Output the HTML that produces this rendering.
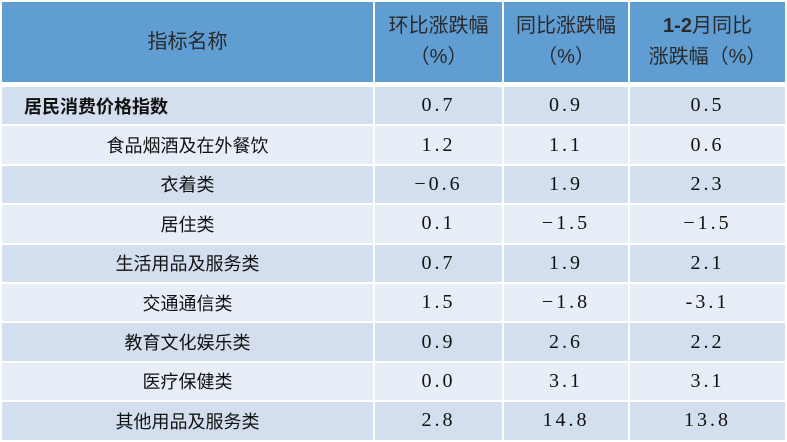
<!DOCTYPE html>
<html><head><meta charset="utf-8"><style>
body{margin:0;width:787px;height:442px;background:#fff;overflow:hidden;font-family:"Liberation Sans","Noto Sans CJK SC",sans-serif;}
table{position:absolute;left:0;top:0;border-collapse:collapse;width:785px;table-layout:fixed;}
td{border:2px solid #fff;text-align:center;color:#111;font-size:18px;padding:0;}
tr.h td{background:#5f9dd3;height:80px;color:#2a2a2a;line-height:31px;font-size:20px;}
tr.o td{background:#d3dfee;height:37.4px;}
tr.e td{background:#e8eef7;height:37.4px;}
td.n{font-family:"Liberation Serif","Noto Serif CJK SC",serif;font-size:20px;letter-spacing:3px;}
td.b{font-weight:bold;}
tr.first td{border-top:5px solid #fff;}
</style></head><body>
<table>
<colgroup><col style="width:373px"><col style="width:129px"><col style="width:126px"><col style="width:157px"></colgroup>
<tr class="h"><td>指标名称</td><td>环比涨跌幅<br>（%）</td><td>同比涨跌幅<br>（%）</td><td><b>1-2</b>月同比<br>涨跌幅（%）</td></tr>
<tr class="o first"><td class="b" style="text-align:left;padding-left:22px">居民消费价格指数</td><td class="n">0.7</td><td class="n">0.9</td><td class="n">0.5</td></tr>
<tr class="e"><td>食品烟酒及在外餐饮</td><td class="n">1.2</td><td class="n">1.1</td><td class="n">0.6</td></tr>
<tr class="o"><td>衣着类</td><td class="n">−0.6</td><td class="n">1.9</td><td class="n">2.3</td></tr>
<tr class="e"><td>居住类</td><td class="n">0.1</td><td class="n">−1.5</td><td class="n">−1.5</td></tr>
<tr class="o"><td>生活用品及服务类</td><td class="n">0.7</td><td class="n">1.9</td><td class="n">2.1</td></tr>
<tr class="e"><td>交通通信类</td><td class="n">1.5</td><td class="n">−1.8</td><td class="n">-3.1</td></tr>
<tr class="o"><td>教育文化娱乐类</td><td class="n">0.9</td><td class="n">2.6</td><td class="n">2.2</td></tr>
<tr class="e"><td>医疗保健类</td><td class="n">0.0</td><td class="n">3.1</td><td class="n">3.1</td></tr>
<tr class="o"><td>其他用品及服务类</td><td class="n">2.8</td><td class="n">14.8</td><td class="n">13.8</td></tr>
</table>
</body></html>
